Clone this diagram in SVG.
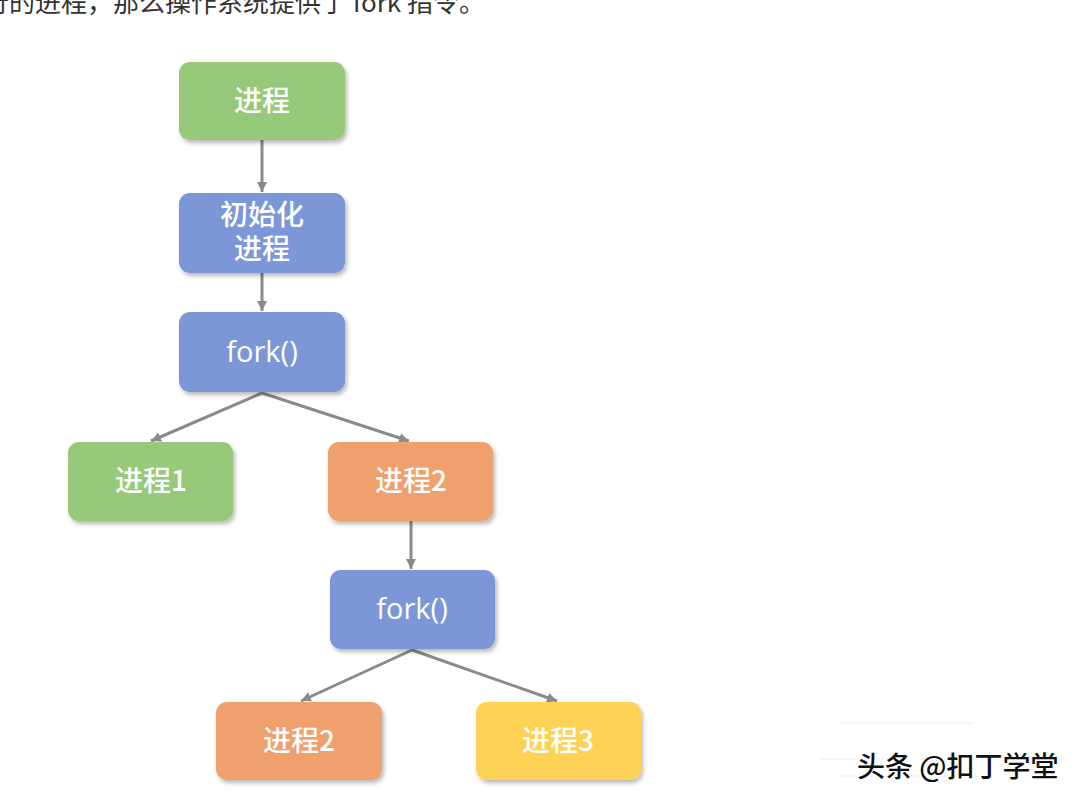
<svg xmlns="http://www.w3.org/2000/svg" width="1080" height="804" viewBox="0 0 1080 804">
<style>
.lbl{font-family:"Noto Sans CJK SC","Noto Sans",sans-serif;font-size:28px;fill:#fff;text-anchor:middle;font-weight:500}
.lat{font-family:"Open Sans","Noto Sans",sans-serif;font-size:29px;fill:#fff;text-anchor:middle;font-weight:500}
.edge{stroke:#8a8a8a;stroke-width:3;fill:none;marker-end:url(#ah)}
.g{fill:#97c97a}.b{fill:#7c97d7}.o{fill:#f0a06d}.y{fill:#fdd255}
.top{font-family:"Noto Sans CJK SC","Noto Sans",sans-serif;font-size:26px;fill:#333}
.wm{font-family:"Noto Sans CJK SC","Noto Sans",sans-serif;font-size:28px;fill:#111;stroke:#fff;stroke-width:3;paint-order:stroke;font-weight:500}
</style>
<defs>
<marker id="ah" markerUnits="userSpaceOnUse" markerWidth="12" markerHeight="12" refX="10" refY="5" orient="auto">
<path d="M0,0 L10,5 L0,10 z" fill="#8a8a8a"/>
</marker>
<filter id="sh" x="-10%" y="-10%" width="130%" height="140%">
<feDropShadow dx="2" dy="3" stdDeviation="2" flood-color="#000" flood-opacity="0.28"/>
</filter>
</defs>
<rect width="1080" height="804" fill="#fff"/>
<text class="top" x="-17" y="12">行的进程，那么操作系统提供了 fork 指令。</text>

<g id="connectors">
<line class="edge" x1="262" y1="140" x2="262" y2="192"/>
<line class="edge" x1="262" y1="273" x2="262" y2="311"/>
<line class="edge" x1="262" y1="393" x2="151" y2="441"/>
<line class="edge" x1="262" y1="393" x2="409" y2="441"/>
<line class="edge" x1="411" y1="521" x2="411" y2="569"/>
<line class="edge" x1="412" y1="650" x2="301" y2="701"/>
<line class="edge" x1="412" y1="650" x2="557" y2="701"/>
</g>

<g id="n1"><rect class="g" x="179" y="62" width="166" height="78" rx="11" filter="url(#sh)"/><text class="lbl" x="262" y="111">进程</text></g>
<g id="n2"><rect class="b" x="179" y="193" width="166" height="80" rx="11" filter="url(#sh)"/><text class="lbl" x="262" y="225">初始化</text><text class="lbl" x="262" y="259">进程</text></g>
<g id="n3"><rect class="b" x="179" y="312" width="166" height="80" rx="11" filter="url(#sh)"/><text class="lat" x="262" y="362">fork()</text></g>
<g id="n4"><rect class="g" x="68" y="442" width="165" height="79" rx="11" filter="url(#sh)"/><text class="lbl" x="151" y="491">进程1</text></g>
<g id="n5"><rect class="o" x="328" y="442" width="165" height="79" rx="11" filter="url(#sh)"/><text class="lbl" x="411" y="491">进程2</text></g>
<g id="n6"><rect class="b" x="330" y="570" width="165" height="79" rx="11" filter="url(#sh)"/><text class="lat" x="412" y="619">fork()</text></g>
<g id="n7"><rect class="o" x="216" y="702" width="166" height="78" rx="11" filter="url(#sh)"/><text class="lbl" x="299" y="751">进程2</text></g>
<g id="n8"><rect class="y" x="476" y="702" width="165" height="78" rx="11" filter="url(#sh)"/><text class="lbl" x="558" y="751">进程3</text></g>

<g id="watermark">
<line x1="840" y1="723" x2="972" y2="723" stroke="#eee" stroke-width="1"/>
<line x1="820" y1="759" x2="900" y2="759" stroke="#eee" stroke-width="1"/>
<line x1="840" y1="776" x2="980" y2="776" stroke="#eee" stroke-width="1"/>
<text class="wm" x="857" y="777">头条 @扣丁学堂</text>
</g>
</svg>
